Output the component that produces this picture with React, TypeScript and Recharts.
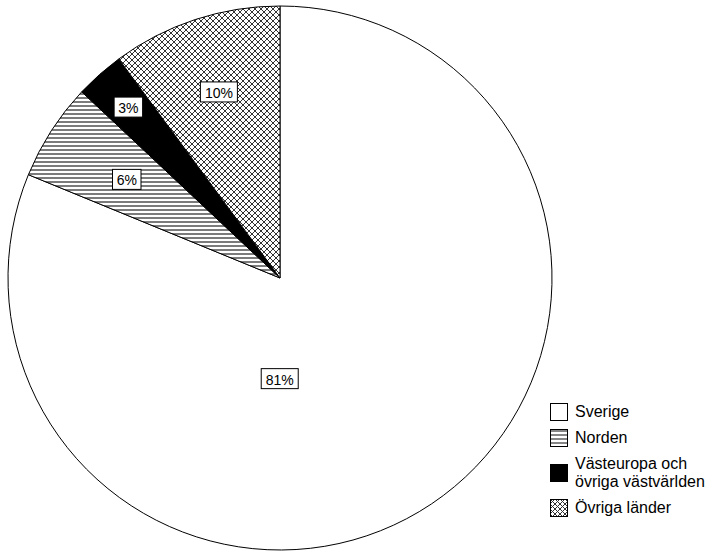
import { Cell, Legend, Pie, PieChart } from 'recharts'

const regions = ['Sverige', 'Norden', 'Västeuropa och övriga västvärlden', 'Övriga länder']
const shares = [81.2, 5.8, 2.9, 10.1]
const percentLabels = ['81%', '6%', '3%', '10%']

const data = regions.map((name, i) => ({ name, value: shares[i], label: percentLabels[i] }))

const FILLS = ['#ffffff', 'url(#stripes)', '#000000', 'url(#crosshatch)']
// label radius (fraction of outer radius) and angle nudge, per slice
const LABEL_POS = [
  { r: 0.37, da: -34 },
  { r: 0.67, da: 0 },
  { r: 0.84, da: 0 },
  { r: 0.72, da: 0 },
]
const RAD = Math.PI / 180
const FONT = '"Liberation Sans", Arial, sans-serif'

function renderLabel(props: any) {
  const { cx, cy, midAngle, outerRadius, index, payload } = props
  const pos = LABEL_POS[index]
  const angle = midAngle + pos.da
  const r = outerRadius * pos.r
  const x = cx + Math.cos(-angle * RAD) * r
  const y = cy + Math.sin(-angle * RAD) * r
  const text = payload.label
  const w = text.length * 8.5 + 11.5
  return (
    <g>
      <rect x={x - w / 2} y={y - 10} width={w} height={20} fill="#fff" stroke="#000" strokeWidth={1} />
      <text x={x} y={y + 1} textAnchor="middle" dominantBaseline="central" fontSize={14} fontFamily={FONT} fill="#000">
        {text}
      </text>
    </g>
  )
}

function LegendBox({ fill }: { fill: string }) {
  return (
    <svg width={18} height={18} style={{ flex: 'none' }}>
      <defs>
        <pattern id="lstripes" width={4} height={4} patternUnits="userSpaceOnUse">
          <rect width={4} height={4} fill="#fff" />
          <line x1={0} y1={2} x2={4} y2={2} stroke="#333" strokeWidth={1.2} />
        </pattern>
        <pattern id="lcross" width={5} height={5} patternUnits="userSpaceOnUse">
          <rect width={5} height={5} fill="#fff" />
          <path d="M0,0 L5,5 M5,0 L0,5" stroke="#333" strokeWidth={1} />
        </pattern>
      </defs>
      <rect
        x={0.5}
        y={0.5}
        width={17}
        height={17}
        stroke="#000"
        fill={fill === 'url(#stripes)' ? 'url(#lstripes)' : fill === 'url(#crosshatch)' ? 'url(#lcross)' : fill}
      />
    </svg>
  )
}

function renderLegend() {
  return (
    <div style={{ fontFamily: FONT, fontSize: 16, color: '#000', lineHeight: '18px' }}>
      {regions.map((name, i) => (
        <div key={name} style={{ display: 'flex', alignItems: 'center', marginBottom: 8 }}>
          <LegendBox fill={FILLS[i]} />
          <span style={{ marginLeft: 7, width: 160, whiteSpace: 'nowrap' }}>
            {name === 'Västeuropa och övriga västvärlden' ? (
              <>
                Västeuropa och
                <br />
                övriga västvärlden
              </>
            ) : (
              name
            )}
          </span>
        </div>
      ))}
    </div>
  )
}

export default function App() {
  return (
    <div style={{ position: 'absolute', left: 0, top: 0, background: '#fff' }}>
      <PieChart width={717} height={553} margin={{ top: 0, right: 0, bottom: 0, left: 0 }}>
        <defs>
          <pattern id="stripes" width={4} height={4} patternUnits="userSpaceOnUse">
            <rect width={4} height={4} fill="#fff" />
            <line x1={0} y1={2} x2={4} y2={2} stroke="#333" strokeWidth={1.3} />
          </pattern>
          <pattern id="crosshatch" width={6} height={6} patternUnits="userSpaceOnUse">
            <rect width={6} height={6} fill="#fff" />
            <path d="M0,0 L6,6 M6,0 L0,6 M-1,5 L1,7 M5,-1 L7,1 M-1,1 L1,-1 M5,7 L7,5" stroke="#333" strokeWidth={1} />
          </pattern>
        </defs>
        <Pie
          data={data}
          dataKey="value"
          nameKey="name"
          cx={280}
          cy={278}
          outerRadius={272}
          startAngle={90}
          endAngle={-270}
          stroke="#000"
          strokeWidth={1}
          label={renderLabel}
          labelLine={false}
          isAnimationActive={false}
        >
          {data.map((d, i) => (
            <Cell key={d.name} fill={FILLS[i]} />
          ))}
        </Pie>
        <Legend
          content={renderLegend}
          wrapperStyle={{ position: 'absolute', left: 550, top: 403, width: 167, bottom: 'auto' }}
        />
      </PieChart>
    </div>
  )
}
